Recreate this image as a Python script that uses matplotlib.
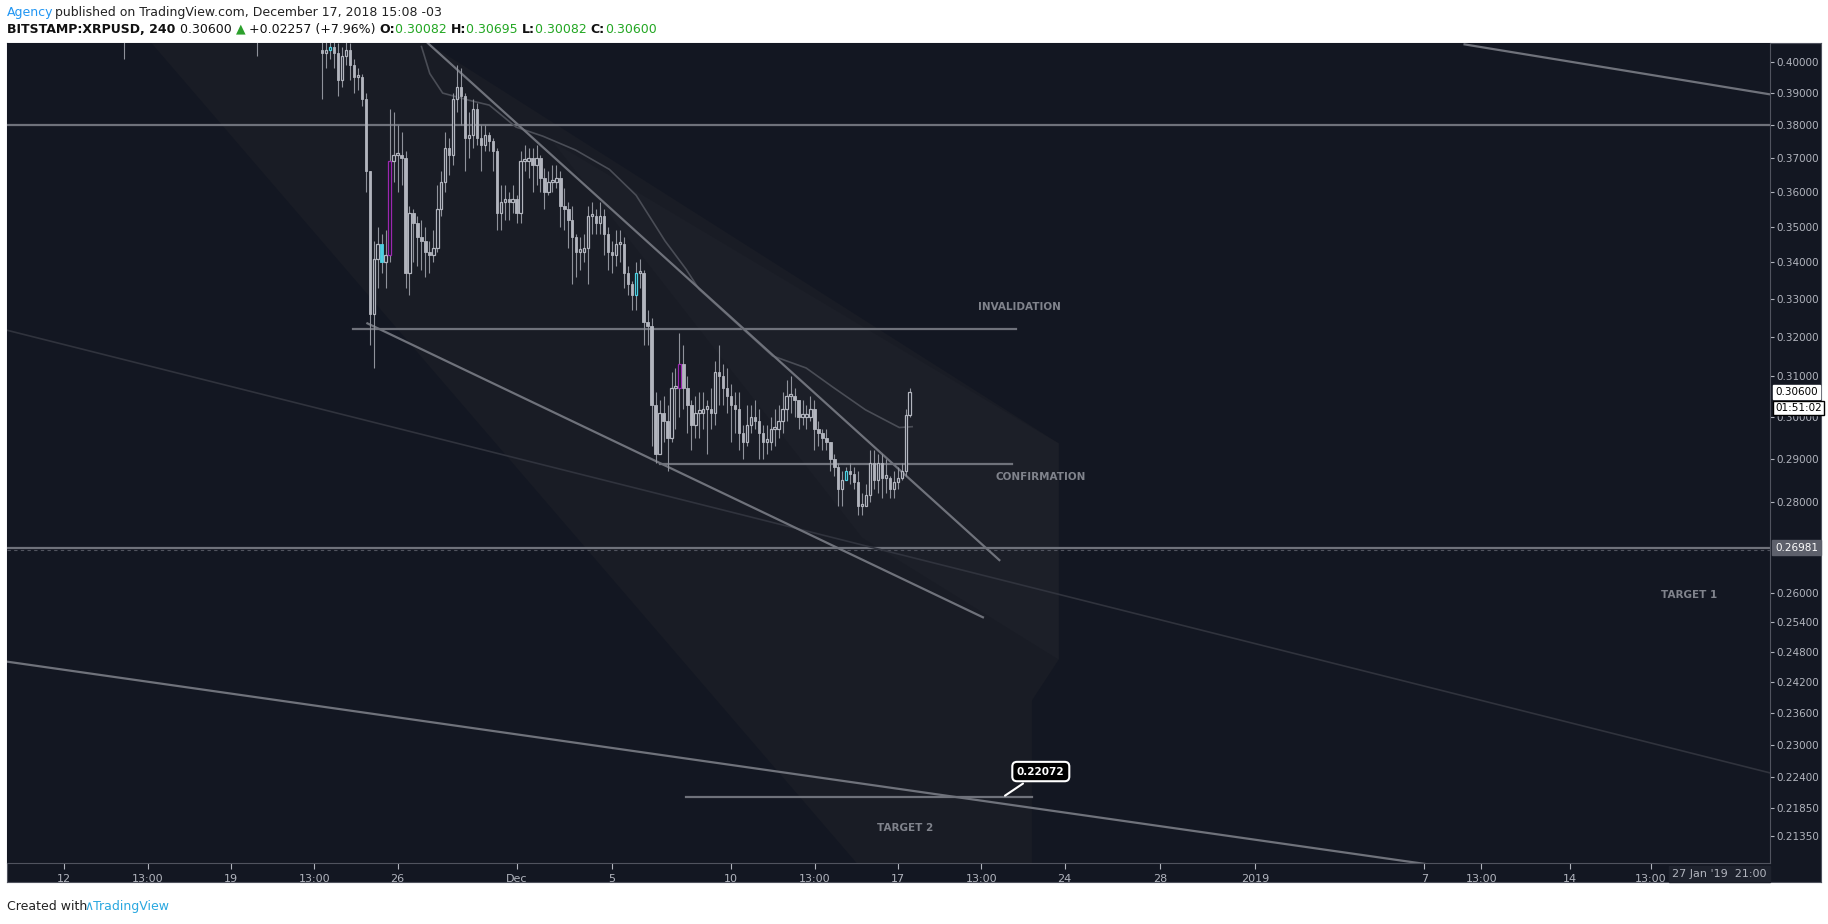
import numpy as np
import matplotlib.pyplot as plt
from matplotlib.patches import Polygon

# ---- data (days since Nov 12 2018, 4h candles) ----
first_day = 10.83
bar_step = 1 / 6

closes = [.403, .404, .405, .403, .394, .402, .404, .399, .395, .395,
          .388, .366, .326, .341, .345, .340, .342, .369, .371, .371,
          .370, .337, .354, .351, .347, .346, .343, .342, .344, .355,
          .363, .373, .371, .388, .392, .389, .376, .377, .385, .376,
          .374, .377, .375, .372, .354, .357, .358, .357, .358, .354,
          .369, .369, .370, .368, .370, .364, .360, .363, .363, .364,
          .356, .355, .352, .347, .343, .343, .344, .353, .353, .351,
          .353, .348, .343, .342, .345, .345, .337, .334, .331, .337,
          .337, .324, .323, .303, .291, .301, .299, .295, .307, .307,
          .313, .307, .303, .298, .301, .301, .302, .302, .301, .311,
          .310, .307, .305, .303, .302, .296, .294, .298, .300, .299,
          .296, .294, .294, .297, .297, .299, .302, .305, .305, .304,
          .300, .300, .300, .302, .297, .296, .295, .294, .290, .288,
          .283, .285, .287, .2865, .2845, .279, .279, .2815, .289, .285,
          .289, .2855, .2855, .283, .2845, .2855, .287, .3005, .306]
highs = [.412, .410, .410, .408, .406, .405, .408, .406, .401, .398,
         .396, .390, .366, .346, .350, .348, .349, .385, .384, .380,
         .378, .372, .356, .355, .353, .352, .350, .346, .349, .362,
         .366, .378, .376, .390, .399, .398, .390, .384, .388, .387,
         .380, .380, .378, .376, .373, .362, .362, .360, .362, .359,
         .372, .374, .373, .373, .374, .371, .367, .366, .368, .368,
         .366, .361, .357, .356, .348, .347, .348, .356, .357, .355,
         .357, .355, .350, .346, .349, .349, .347, .339, .335, .340,
         .341, .338, .327, .325, .306, .304, .305, .303, .311, .312,
         .321, .318, .310, .304, .305, .306, .306, .304, .307, .314,
         .318, .313, .312, .308, .306, .306, .298, .303, .303, .304,
         .302, .298, .298, .300, .302, .303, .306, .309, .310, .307,
         .304, .304, .303, .305, .304, .299, .297, .297, .294, .291,
         .289, .287, .288, .289, .288, .287, .282, .284, .292, .292,
         .291, .291, .290, .286, .287, .288, .289, .302, .307]
lows = [.388, .398, .401, .398, .389, .392, .399, .394, .390, .391,
        .386, .360, .318, .312, .333, .337, .333, .340, .363, .360,
        .362, .333, .331, .340, .339, .338, .336, .337, .340, .343,
        .353, .360, .365, .368, .384, .380, .366, .370, .373, .374,
        .366, .372, .372, .366, .349, .349, .352, .352, .354, .351,
        .351, .366, .364, .360, .362, .360, .355, .359, .360, .361,
        .350, .349, .344, .334, .336, .338, .340, .334, .348, .348,
        .348, .342, .338, .337, .339, .340, .333, .331, .327, .327,
        .333, .318, .318, .293, .289, .291, .294, .287, .294, .297,
        .300, .302, .296, .292, .295, .295, .297, .291, .297, .298,
        .303, .303, .301, .294, .296, .292, .290, .293, .296, .297,
        .290, .290, .291, .292, .293, .295, .296, .299, .301, .300,
        .297, .298, .297, .299, .292, .293, .292, .292, .287, .286,
        .279, .279, .285, .284, .283, .277, .277, .279, .280, .283,
        .282, .281, .282, .281, .281, .283, .285, .286, .300]
first_open = .404
purple_bars = [17, 90]
cyan_bars = [2, 15, 79, 132]

# earlier candles mostly above the visible range
early_days = [2.5, 8.1]
early_lows = [.401, .402]
early_highs = [.47, .46]

# moving average
ma_days = [15.0, 15.35, 15.89, 17.02, 17.85, 18.97, 20.10, 21.47, 22.89, 24.01,
           25.23, 26.11, 26.65, 29.73, 31.15, 32.27, 33.64, 35.06, 35.60]
ma_vals = [.405, .3962, .390, .3877, .3862, .3794, .3766, .3724, .3666, .359,
           .3459, .3381, .3327, .3152, .3121, .3073, .3017, .2974, .2976]

price_ticks = [0.40, 0.39, 0.38, 0.37, 0.36, 0.35, 0.34, 0.33, 0.32, 0.31, 0.30, 0.29,
               0.28, 0.26, 0.254, 0.248, 0.242, 0.236, 0.23, 0.224, 0.2185, 0.2135]
time_ticks = [0, 3.5, 7, 10.5, 14, 19, 23, 28, 31.5, 35, 38.5, 42, 46, 50, 57.1, 59.5, 63.2, 66.6]
time_labels = ['12', '13:00', '19', '13:00', '26', 'Dec', '5', '10', '13:00', '17', '13:00',
               '24', '28', '2019', '7', '13:00', '14', '13:00']

BG = '#131722'
GRID_TXT = '#b2b5be'
LINE = '#6f727b'
W, H = 1568, 792

fig = plt.figure(figsize=(18.28, 9.24), dpi=100)
fig.patch.set_facecolor('white')

# dark panel behind chart + scales
panel = fig.add_axes([6 / W, 1 - 756 / H, 1556 / W, 719 / H])
panel.set_facecolor(BG)
panel.set_xticks([])
panel.set_yticks([])
for s in panel.spines.values():
    s.set_color('#50535e')

ax = fig.add_axes([6 / W, 1 - 740 / H, 1512 / W, 703 / H])
ax.set_facecolor(BG)
ax.set_yscale('log')
ax.set_xlim(-2.4, 71.6)
ax.set_ylim(0.2089, 0.4061)

# shaded drawing regions
ax.add_patch(Polygon([(3.67, .4061), (15.27, .4061), (41.75, .2936), (41.75, .2464),
                      (40.63, .2384), (40.63, .2089), (33.28, .2089)],
                     closed=True, facecolor='#191c25', edgecolor='none', zorder=1))
ax.add_patch(Polygon([(20.5, .375), (41.75, .2936), (41.75, .2464), (33.5, .272)],
                     closed=True, facecolor='#1c1f28', edgecolor='none', zorder=1))

# trend lines / levels
ax.axhline(0.38, color=LINE, lw=1.6, zorder=2)
ax.axhline(0.26981, color=LINE, lw=1.6, zorder=2)
ax.axhline(0.26981 * 0.9985, color='#50535e', lw=0.8, ls=(0, (3, 3)), zorder=2)
ax.plot([12.14, 39.94], [.3222, .3222], color=LINE, lw=1.6, zorder=2)
ax.plot([25.01, 39.79], [.2888, .2888], color=LINE, lw=1.6, zorder=2)
ax.plot([26.09, 40.63], [.2204, .2204], color=LINE, lw=1.6, zorder=2)
ax.plot([15.27, 39.26], [.4061, .2671], color=LINE, lw=1.6, zorder=4)
ax.plot([12.73, 38.57], [.3236, .2550], color=LINE, lw=1.6, zorder=4)
ax.plot([-2.4, 57.12], [.2460, .2088], color=LINE, lw=1.6, zorder=2)
ax.plot([58.79, 71.61], [.4057, .3896], color=LINE, lw=1.6, zorder=2)
ax.plot([-2.4, 71.6], [.3218, .2248], color='#30333d', lw=1.2, zorder=2)
ax.plot(ma_days, ma_vals, color='#4a4d56', lw=1.2, zorder=3)

# candles
days = first_day + bar_step * np.arange(len(closes))
opens = [first_open] + closes[:-1]
bw = bar_step * 0.62
for i, d in enumerate(days):
    o, c = opens[i], closes[i]
    col = GRID_TXT
    if i in purple_bars:
        col = '#9c27b0'
    elif i in cyan_bars:
        col = '#4dd0e1'
    ax.vlines(d, lows[i], highs[i], color='#8f929b', lw=0.8, zorder=5)
    lo, hi = min(o, c), max(o, c)
    if hi - lo < 0.0006:
        hi = lo + 0.0006
    if c >= o:
        ax.bar(d, hi - lo, bottom=lo, width=bw, facecolor=BG, edgecolor=col, lw=0.9, zorder=6)
    else:
        ax.bar(d, hi - lo, bottom=lo, width=bw, facecolor=col, edgecolor=col, lw=0.6, zorder=6)
for d, lo_, hi_ in zip(early_days, early_lows, early_highs):
    ax.vlines(d, lo_, hi_, color='#8f929b', lw=0.8, zorder=5)

# annotations
txt_kw = dict(color='#80838c', fontsize=7.5, fontweight='bold', ha='center', va='center', zorder=7)
ax.text(40.1, 0.4 * np.exp(-(263 - 53) / 1057), 'INVALIDATION', **txt_kw)
ax.text(41.0, 0.4 * np.exp(-(409 - 53) / 1057), 'CONFIRMATION', **txt_kw)
ax.text(68.2, 0.4 * np.exp(-(510 - 53) / 1057), 'TARGET 1', **txt_kw)
ax.text(35.3, 0.4 * np.exp(-(709 - 53) / 1057), 'TARGET 2', **txt_kw)
ax.annotate('0.22072', xy=(39.4, .2204), xytext=(41.0, 0.4 * np.exp(-(661 - 53) / 1057)),
            color='white', fontsize=7.5, fontweight='bold', ha='center', va='center', zorder=8,
            bbox=dict(boxstyle='round,pad=0.45', fc='black', ec='white', lw=1.5),
            arrowprops=dict(arrowstyle='-', color='white', lw=1.5))

# scales
ax.yaxis.tick_right()
ax.yaxis.set_minor_locator(plt.NullLocator())
ax.set_yticks(price_ticks)
ax.set_yticklabels(['%.5f' % p for p in price_ticks])
ax.yaxis.set_minor_formatter(plt.NullFormatter())
ax.tick_params(axis='y', colors=GRID_TXT, labelsize=7.5, length=3, pad=2)
ax.set_xticks(time_ticks)
ax.set_xticklabels(time_labels)
ax.tick_params(axis='x', colors=GRID_TXT, labelsize=8, length=4, pad=4)
for s in ['top', 'left']:
    ax.spines[s].set_visible(False)
ax.spines['right'].set_color('#50535e')
ax.spines['bottom'].set_color('#50535e')

# last price tags
tag_kw = dict(transform=ax.get_yaxis_transform(), fontsize=7.5, va='center', ha='left', zorder=9)
ax.text(1.003, 0.306, '0.30600', color='black',
        bbox=dict(boxstyle='square,pad=0.2', fc='white', ec='white'), **tag_kw)
ax.text(1.003, 0.3022, '01:51:02', color='black',
        bbox=dict(boxstyle='square,pad=0.2', fc='white', ec='black'), **tag_kw)
ax.text(1.003, 0.26981, '0.26981', color='white',
        bbox=dict(boxstyle='square,pad=0.25', fc='#5d606b', ec='#5d606b'), **tag_kw)
fig.text(1475 / W, 1 - 749 / H, "27 Jan '19  21:00", fontsize=8, color=GRID_TXT, ha='center', va='center',
         bbox=dict(boxstyle='square,pad=0.3', fc='#1e222d', ec='#1e222d'))

# header / footer
fig.text(6 / W, 1 - 11 / H, 'Agency', color='#2196f3', fontsize=9, va='center')
fig.text(47 / W, 1 - 11 / H, 'published on TradingView.com, December 17, 2018 15:08 -03',
         color='#222222', fontsize=9, va='center')
hdr = [('BITSTAMP:XRPUSD, 240 ', '#111111', 'bold'), ('0.30600 ', '#111111', 'normal'),
       ('\u25b2', '#2ca02c', 'normal'), (' +0.02257 (+7.96%) ', '#111111', 'normal'),
       ('O:', '#111111', 'bold'), ('0.30082 ', '#23a723', 'normal'),
       ('H:', '#111111', 'bold'), ('0.30695 ', '#23a723', 'normal'),
       ('L:', '#111111', 'bold'), ('0.30082 ', '#23a723', 'normal'),
       ('C:', '#111111', 'bold'), ('0.30600', '#23a723', 'normal')]
fig.canvas.draw()
r = fig.canvas.get_renderer()
xpos = 6 / W
for s, c, w in hdr:
    t = fig.text(xpos, 1 - 25 / H, s, color=c, fontsize=9, fontweight=w, va='center')
    bb = t.get_window_extent(renderer=r)
    xpos += bb.width / fig.bbox.width
fig.text(6 / W, 1 - 777 / H, 'Created with', color='#222222', fontsize=9, va='center')
fig.text(72 / W, 1 - 777 / H, '\u2227TradingView', color='#2aa8e0', fontsize=9, va='center')

fig.savefig('out.png', dpi=100, facecolor='white')
